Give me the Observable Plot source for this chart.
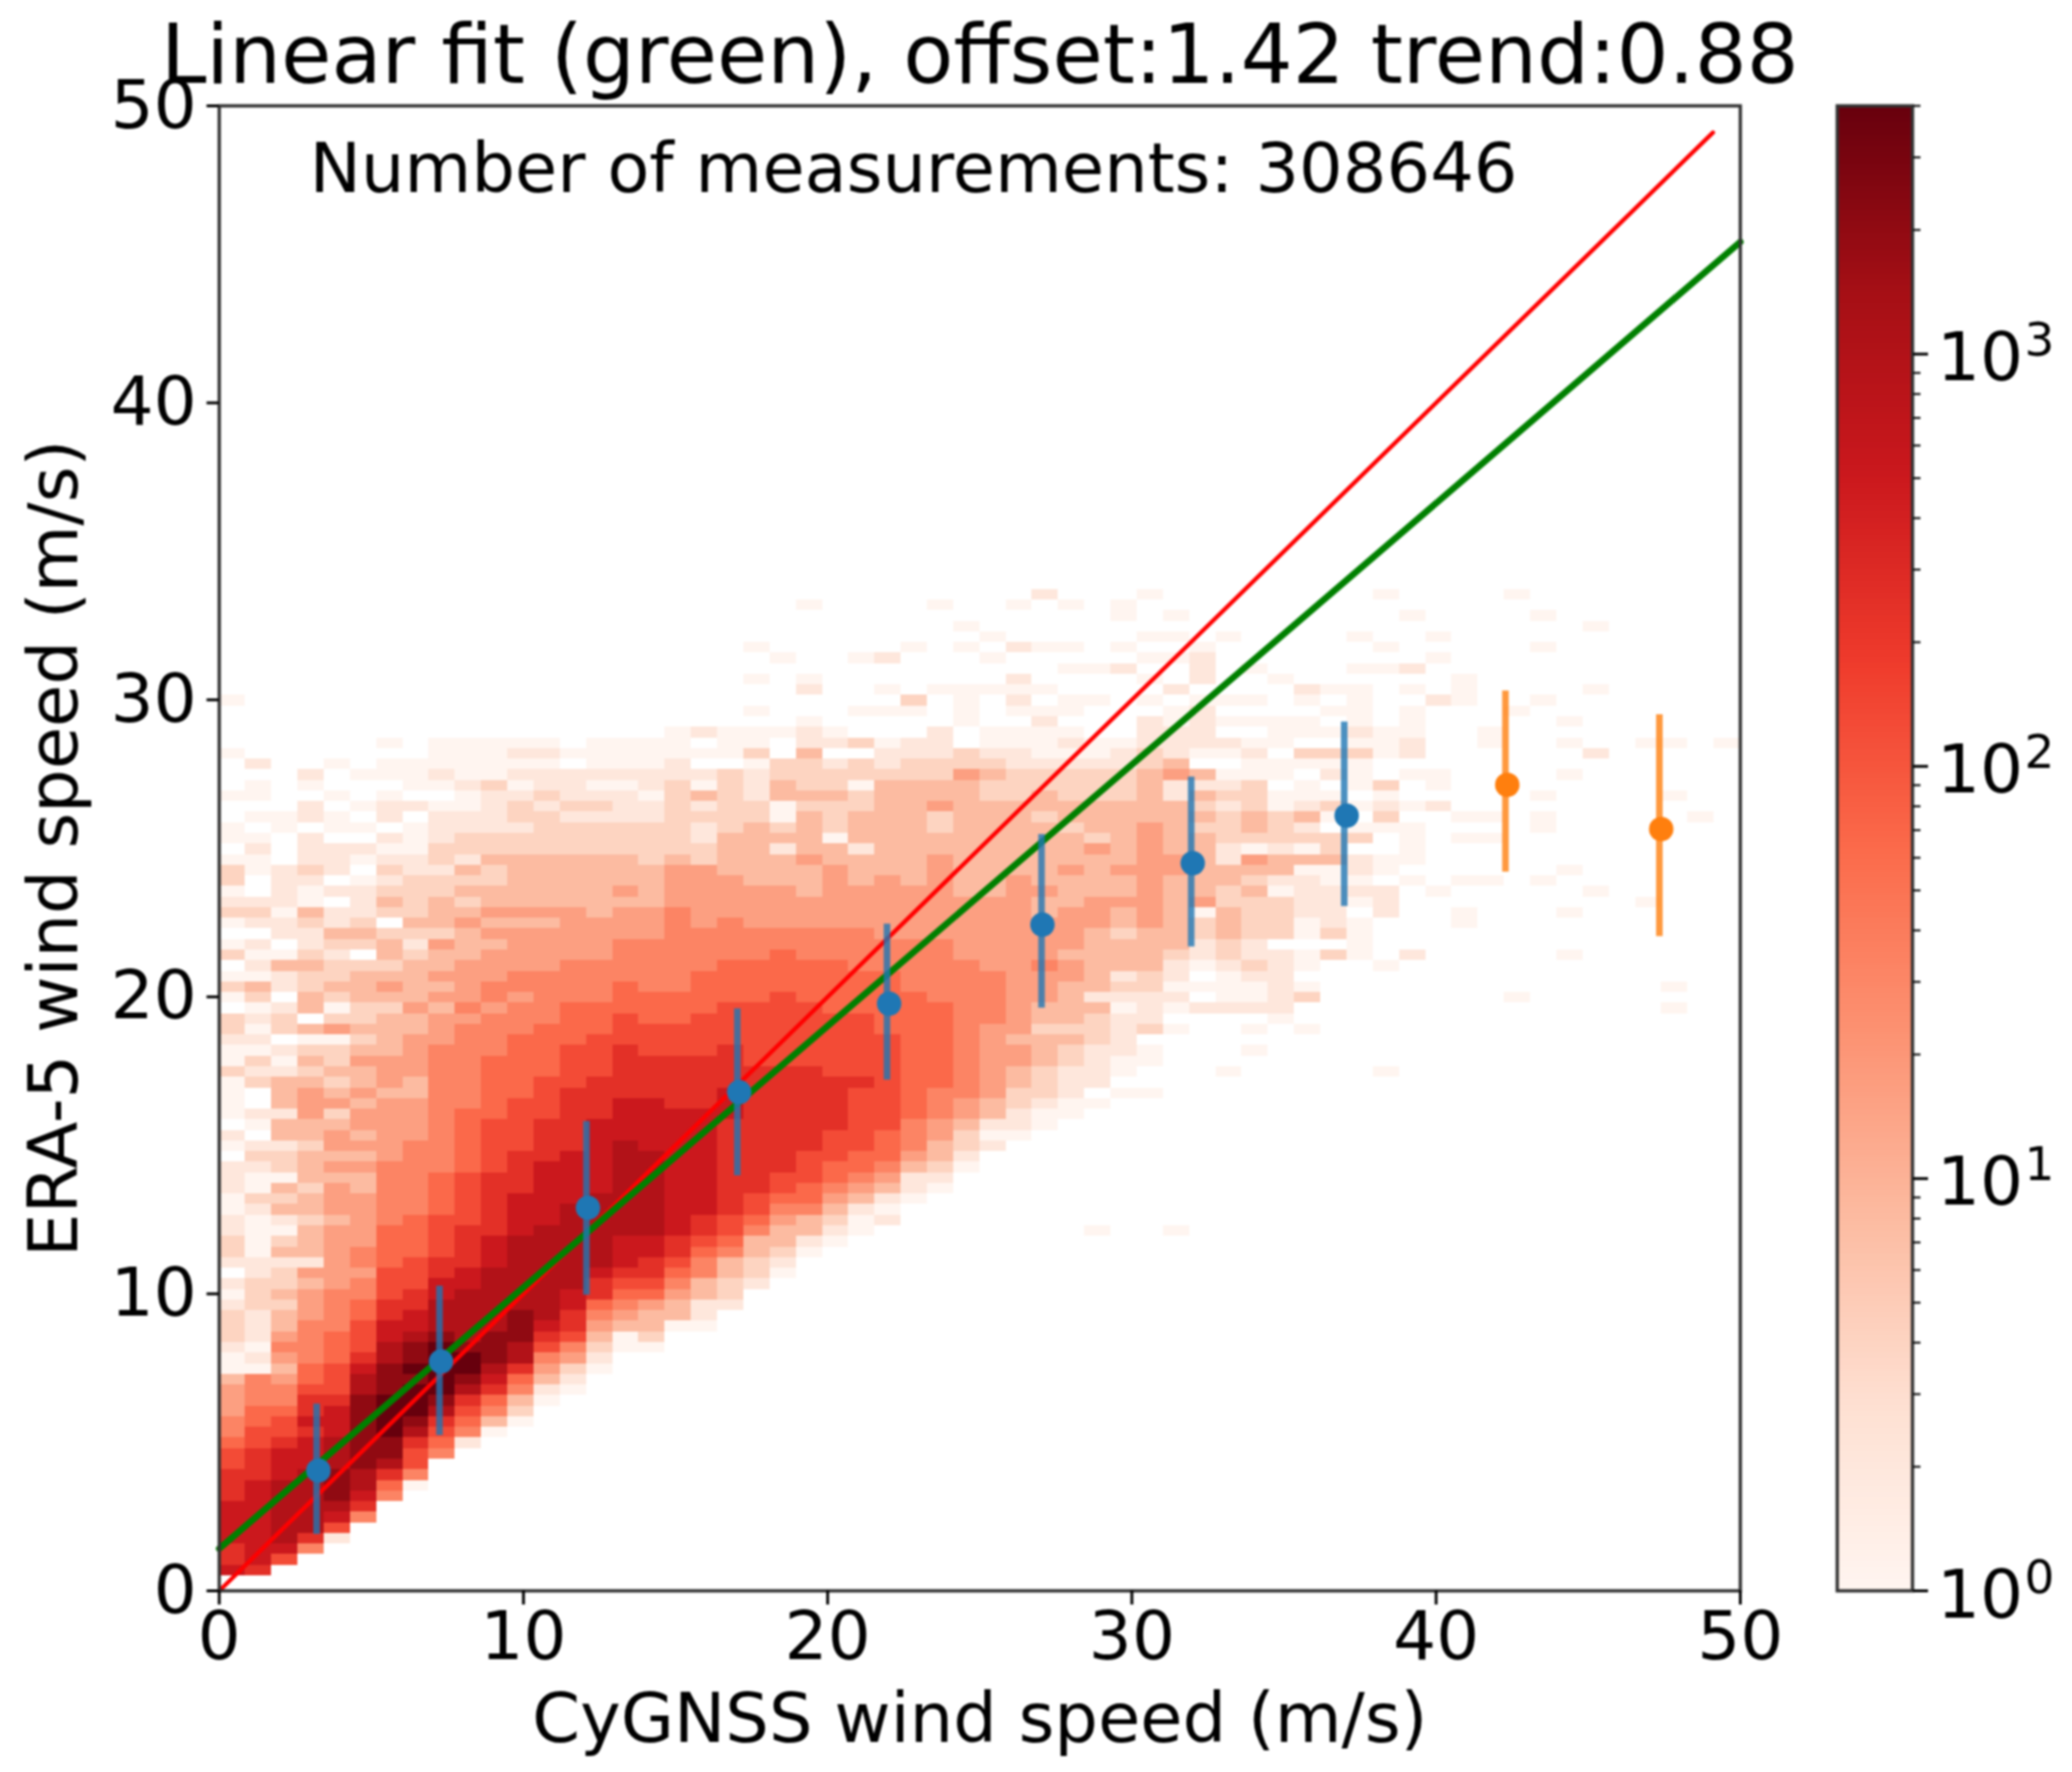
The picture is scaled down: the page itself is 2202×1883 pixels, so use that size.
<!DOCTYPE html>
<html><head><meta charset="utf-8">
<script src="https://cdn.jsdelivr.net/npm/d3@7"></script>
<script src="https://cdn.jsdelivr.net/npm/@observablehq/plot@0.6"></script>
<style>
html,body{margin:0;padding:0;background:#fff}
#wrap{position:relative;width:2202px;height:1883px;overflow:hidden;filter:blur(0.9px)}
#wrap svg{position:absolute;top:0;overflow:visible;background:transparent}
#main svg{left:0}
#bar svg{left:1949px}
</style></head><body><div id="wrap"><div id="main"></div><div id="bar"></div></div>
<script>
const titleText="Linear fit (green), offset:1.42 trend:0.88";
const noteText="Number of measurements: 308646";
const xLabel="CyGNSS wind speed (m/s)";
const yLabel="ERA-5 wind speed (m/s)";
const axisTicks=[0,10,20,30,40,50];
const barTicks=[1,10,100,1000];
const barBase=["10","10","10","10"];
const barExponent=["0","1","2","3"];
const barMinor=[2,3,4,5,6,7,8,9,20,30,40,50,60,70,80,90,200,300,400,500,600,700,800,900,2000,3000,4000];
const redsStops=["#fff5f0","#fee0d2","#fcbba1","#fc9272","#fb6a4a","#ef3b2c","#cb181d","#a50f15","#67000d"];
const levelCounts=[1,2,4,8,16,32,64,125,250,500,1000,2000,4000];
const colWidth=50/58, rowStep=50/140, rowOrigin=0.15;
// one string per CyGNSS bin; blocks of 10 ERA-5 bins from the bottom; characters are indexes into levelCounts
const binLevels=[
".988999988 8776554443 001222101. 1221100111 .01.000020 0122.020.2 0.0210220. 00..0...0. ...0......",
".899999999 8887766555 0101112221 1000012001 21.01..212 0101023010 1.121..001 0.0.00.1..",
"..79aaaaaa 9998776554 3454332322 1320132302 2133133310 1.221.1130 .1101111.. .00.......",
"...58aaaaa a999898876 6555544434 1333233233 3233444323 203.332232 1123001211 1.11.01...",
"....179abb baaa999877 7666555544 4444344434 3443243232 2042023221 2311.1.111 .00.0..0..",
"......589a abbbbbbbaa 9877766554 5544444334 3434434334 323223332. 2321110.01 .0.0..0...",
"........56 8abbccccbb baa9988777 6666555555 4444443444 3333234323 32.2321210 1.110.00.0",
".........0 5778abcccb cbba998877 7666655555 5544443344 4433433332 1232222110 00.1.000..",
".......... ..5678abcc cccbaaa998 8777766665 5555555555 5444343433 4233322122 1110.01000",
".......... ...15678ab ccbaaaaa99 8888777776 6666655555 5554544443 3343232312 2110010000",
".......... ....035689 abbbaaaaaa 9998888887 7777666666 5555455444 3434332232 2111120000",
".......... .....02356 8aabbbaaaa aaa9999888 8777776666 6655545544 4434333332 2122101010",
".......... .......013 45789aaaaa aaaa999999 8888777766 6665555544 4434333332 2221211010",
".......... ........01 24578899aa aaaaaa9999 9888888777 7666655554 4444333332 2212111.0.",
".......... .......... 0123456889 aaaaaaa999 9999888877 7766655554 4443333332 2212101000",
".......... .......... ..00345678 999aaaaaaa aa99998888 8777666555 5444343332 2211101000",
".......... .......... ..02334678 899aaaaaaa a999998888 7776665555 5444333322 2211011000",
".......... .......... ....033456 7889999999 9999988888 7776665555 5555444432 2222221100",
".......... .......... ....011335 5678899999 9999988888 7777666655 5544444422 1121301.0.",
".......... .......... ......1223 3567788888 8888999888 8777766665 5554444333 3222222.00",
".......... .......... ........12 2335677888 8888888887 7777766665 5544443333 3322111020",
".......... .......... .........0 1233456778 8888888887 7777776666 5544443331 32003322..",
".......... .......... .......... .013356677 7888888887 7777766665 5544433343 3332322231",
".......... .......... .......... ..01234566 7778888877 7777666665 5544444433 02223221.1",
".......... .......... .......... ...0013456 6777777877 7777666655 5544443331 33322022.2",
".......... .......... .......... ....101345 6667777777 7766666655 5444444333 3333332110",
".......... .......... .......... ......0113 4555666666 6666665555 5444443333 3333332211",
".......... .......... .......... .......012 3344555666 6666655555 5444444443 3224332211",
".......... .......... .......... .........0 1223445555 5555555554 4444433333 333333422.",
".......... .......... .......... .......... .101334444 4445555544 4444433333 3333223210",
".......... .......... .......... .......... ..01122334 4344444444 4444444333 3333222110",
".......... .......... .......... .......... ...0012223 3323344454 4443343333 3323322100",
".......... .......... .......... .......... ....001112 2323333443 4444333433 3233222101",
".......... .......... .......... .......... .....0.111 1222313333 3344433334 2333222100",
".......... .......... .......... .......... ......0.00 1111012133 3233433433 3333222110",
".......... .......... .......... .......... ......0..0 0.21112233 3344444444 4433333221 11.0.0.0..",
".......... .......... .......... .......... .......... ..0.010112 3333333443 3333114311 100.1..0.0",
".......... .......... .......... .......... .......... ....1.0.01 1220433333 3232313.01 1110..1.0.",
".......... .......... .......... .......... ........0. ....100012 2333223311 2221210.01 .0.0.....0",
".......... .......... .......... .......... .......... 0.0.100121 1222232340 2332220010 .0.0..0...",
".......... .......... .......... .......... .......... ...0111111 .222201331 22200.00.0 00...0....",
".......... .......... .......... .......... .......... ..0..20.00 .001111030 213100.02. 00.01.....",
".......... .......... .......... .......... .......... .........2 .211110032 2.020.102. 0.0.0.....",
".......... .......... .......... .......... .......... .........0 000.01011. 20.0.00020 10000.0..0",
".......... .......... .......... .......... ........0. ........0. ...111.00. .02102..00 0.....0.0. ...0......",
".......... .......... .......... .......... .......... .........1 ......0.00 00.0..0.11 000.0.1... .0........"
];
const sparseCells=[[33,33,0],[36,33,0],
[22,92,0],[27,92,0],[30,92,0],[31,93,1],[32,92,0],[34,92,0],[34,91,0],[35,93,0],[36,91,0],
[28,90,0],[29,89,0],[35,89,0],[20,88,0],[26,88,0],[28,88,0],[30,88,1],[31,88,0],[32,88,0],[34,88,0],
[21,87,0],[24,87,0],[25,87,1],[29,87,0],[37,87,1],[32,86,0],[33,86,0],[34,86,1],
[22,85,0],[30,85,1],[37,85,1],[20,85,0],[22,84,1],[27,84,0],[28,84,0],[29,84,0],[30,84,0],[31,84,0],
[25,84,0],[26,83,2],[28,83,0],[30,83,1],[32,83,0],[33,83,0],
[20,82,0],[24,82,0],[25,82,0],[26,82,0],[28,82,0],[30,82,0],[31,82,0],[32,82,0],
[22,81,0],[28,81,0],[31,81,1],[17,80,0],[18,80,1],[19,80,0],[20,80,0],[21,80,0],[22,80,1],[23,80,0],[27,80,1],[29,80,0],[30,80,0],[31,80,0],[32,80,0],
[46,89,0],[46,87,0],[46,83,1],[46,76,0],[46,75,0],[46,73,1],[46,65,0],
[47,85,0],[47,84,0],[47,83,0],[47,72,0],[47,70,0],[47,66,0],[47,63,0],[47,62,0],
[48,80,0],[48,79,0],[48,72,0],[48,70,0],[48,66,0],
[49,93,0],[49,82,0],[49,55,0],
[50,91,0],[50,88,0],[50,83,0],[50,74,0],[50,72,0],[50,71,0],[50,66,0],
[51,81,0],[51,79,0],[51,76,0],[51,67,0],[51,63,0],[51,59,0],
[52,90,0],[52,84,0],[52,78,1],[52,65,0],
[54,79,0],[54,64,0],[55,79,0],[55,74,0],[55,56,0],[55,54,0],[56,72,0],[57,79,0]];

const pointX=[3.26,7.29,12.12,17.09,22.02,27.06,32.0,37.06,42.34,47.4];
const pointY=[4.05,7.72,12.9,16.79,19.77,22.43,24.5,26.1,27.14,25.65];
const barX=[3.2,7.24,12.07,17.03,21.95,27.03,31.95,36.98,42.28,47.34];
const barLow=[1.9,5.23,9.96,13.97,17.2,19.62,21.68,23.04,24.2,22.03];
const barHigh=[6.29,10.26,15.8,19.6,22.45,25.47,27.4,29.25,30.3,29.5];
const pointColor=["#1f77b4","#1f77b4","#1f77b4","#1f77b4","#1f77b4","#1f77b4","#1f77b4","#1f77b4","#ff7f0e","#ff7f0e"];
const oneToOneX=[0,49.1], oneToOneY=[0,49.1];
const fitX=[0,50], fitY=[1.42,45.42];

const heatCells=[];
binLevels.forEach((s,c)=>{
  const codes=s.replace(/ /g,"");
  for(let r=0;r<codes.length;r++){ if(codes[r]===".") continue;
    heatCells.push({c,r,n:levelCounts[parseInt(codes[r],16)]}); }
});
sparseCells.forEach(([c,r,l])=>heatCells.push({c,r,n:levelCounts[l]}));

const font="DejaVu Sans";
const colorScale={type:"log",domain:[1,4000],interpolate:d3.piecewise(d3.interpolateRgb,redsStops)};
const idx=d3.range(pointX.length);

const main=Plot.plot({
  width:2202,height:1883,marginLeft:232.5,marginRight:353,marginTop:112,marginBottom:193,
  style:{fontFamily:font,fontSize:"72px",background:"transparent",color:"#000",overflow:"visible"},
  x:{domain:[0,50],label:null},y:{domain:[0,50],label:null},color:colorScale,
  marks:[
    Plot.rect(heatCells,{x1:d=>d.c*colWidth,x2:d=>(d.c+1)*colWidth,
      y1:d=>rowOrigin+d.r*rowStep,y2:d=>rowOrigin+(d.r+1)*rowStep,fill:"n",inset:0,shapeRendering:"crispEdges"}),
    Plot.line(oneToOneX.map((x,i)=>({x,y:oneToOneY[i]})),{x:"x",y:"y",stroke:"#ff0000",strokeWidth:4.5}),
    Plot.line(fitX.map((x,i)=>({x,y:fitY[i]})),{x:"x",y:"y",stroke:"#008000",strokeWidth:7}),
    Plot.ruleX(idx,{x:i=>barX[i],y1:i=>barLow[i],y2:i=>barHigh[i],stroke:i=>pointColor[i],strokeWidth:7,strokeOpacity:0.8,strokeLinecap:"butt"}),
    Plot.dot(idx,{x:i=>pointX[i],y:i=>pointY[i],fill:i=>pointColor[i],r:13}),
    Plot.frame({stroke:"#333",strokeWidth:3.5}),
    Plot.axisX({ticks:axisTicks,tickFormat:d=>d,tickSize:15,strokeWidth:3,tickPadding:6,label:null,fontSize:72}),
    Plot.axisY({ticks:axisTicks,tickFormat:d=>d,tickSize:13,strokeWidth:3,tickPadding:11,label:null,fontSize:72}),
    Plot.text([titleText],{frameAnchor:"top",dy:-25,lineAnchor:"bottom",fontSize:87,text:d=>d,fill:"#000"}),
    Plot.text([noteText],{frameAnchor:"top-left",dx:96,dy:91,lineAnchor:"bottom",textAnchor:"start",fontSize:73,text:d=>d,fill:"#000"}),
    Plot.text([xLabel],{frameAnchor:"bottom",dy:160,lineAnchor:"bottom",fontSize:73,text:d=>d,fill:"#000"}),
    Plot.text([yLabel],{frameAnchor:"left",dx:-151,rotate:-90,textAnchor:"middle",lineAnchor:"bottom",fontSize:73,text:d=>d,fill:"#000"})
  ]
});
document.getElementById("main").append(main);

const strips=d3.range(256).map(i=>({a:4000**(i/256),b:4000**((i+1)/256)}));
const bar=Plot.plot({
  width:253,height:1883,marginLeft:3,marginRight:170,marginTop:112,marginBottom:193,
  style:{fontFamily:font,fontSize:"72px",background:"transparent",color:"#000",overflow:"visible"},
  x:{domain:[0,1],axis:null},
  y:{type:"log",domain:[1,4000],label:null},color:colorScale,
  marks:[
    Plot.rect(strips,{x1:0,x2:1,y1:"a",y2:"b",fill:d=>Math.sqrt(d.a*d.b),inset:0,shapeRendering:"crispEdges"}),
    Plot.frame({stroke:"#333",strokeWidth:3.5}),
    Plot.axisY({anchor:"right",ticks:barMinor,tickFormat:()=>null,tickSize:8,strokeWidth:2,label:null}),
    Plot.axisY({anchor:"right",ticks:barTicks,tickFormat:()=>null,tickSize:16,strokeWidth:3,label:null}),
    Plot.text(barTicks,{x:1,y:d=>d,dx:26,dy:5,text:(d,i)=>barBase[i],textAnchor:"start",fontSize:72,fill:"#000"}),
    Plot.text(barTicks,{x:1,y:d=>d,dx:119,dy:-14,text:(d,i)=>barExponent[i],textAnchor:"start",fontSize:50,fill:"#000"})
  ]
});
document.getElementById("bar").append(bar);
</script></body></html>
